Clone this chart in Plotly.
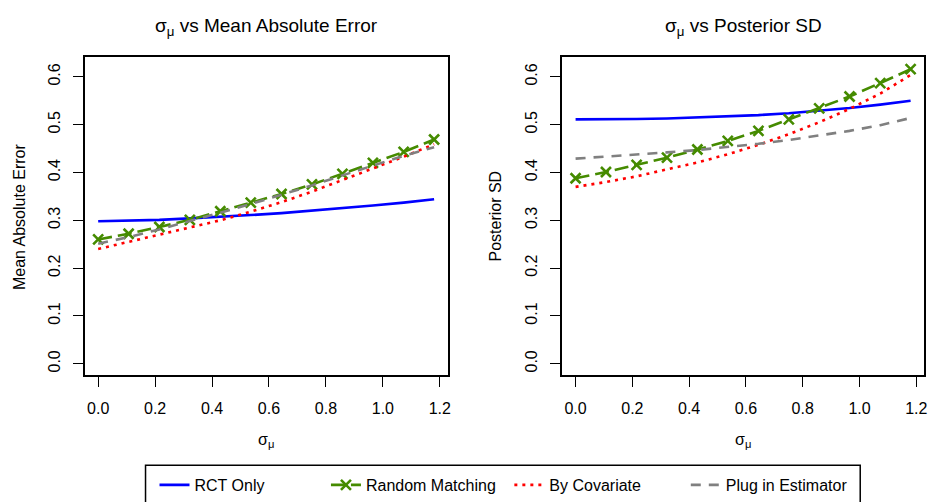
import plotly.graph_objects as go

W, H = 932, 502

# ---- data ----
sigma_mu = [0.0, 0.107, 0.215, 0.322, 0.429, 0.536, 0.644, 0.751, 0.858, 0.965, 1.073, 1.18]

mae_rct = [0.298, 0.299, 0.301, 0.304, 0.307, 0.311, 0.315, 0.320, 0.325, 0.331, 0.337, 0.344]
mae_random = [0.260, 0.272, 0.286, 0.301, 0.319, 0.337, 0.355, 0.375, 0.397, 0.420, 0.443, 0.469]
mae_cov = [0.240, 0.255, 0.270, 0.285, 0.300, 0.318, 0.338, 0.360, 0.384, 0.408, 0.433, 0.459]
mae_plug = [0.251, 0.265, 0.281, 0.298, 0.316, 0.334, 0.353, 0.373, 0.394, 0.415, 0.435, 0.453]

sd_rct = [0.511, 0.511, 0.512, 0.513, 0.515, 0.517, 0.520, 0.524, 0.529, 0.535, 0.542, 0.550]
sd_random = [0.388, 0.401, 0.416, 0.431, 0.448, 0.466, 0.487, 0.511, 0.534, 0.559, 0.587, 0.616]
sd_cov = [0.370, 0.380, 0.392, 0.406, 0.421, 0.438, 0.458, 0.480, 0.505, 0.533, 0.565, 0.604]
sd_plug = [0.429, 0.433, 0.437, 0.442, 0.447, 0.453, 0.460, 0.468, 0.477, 0.487, 0.499, 0.514]

series_names = ["RCT Only", "Random Matching", "By Covariate", "Plug in Estimator"]
x_ticks = [0.0, 0.2, 0.4, 0.6, 0.8, 1.0, 1.2]
y_ticks = [0.0, 0.1, 0.2, 0.3, 0.4, 0.5, 0.6]

panel_titles = ["σ<sub>μ</sub> vs Mean Absolute Error", "σ<sub>μ</sub> vs Posterior SD"]
y_titles = ["Mean Absolute Error", "Posterior SD"]
x_title = "σ<sub>μ</sub>"

# ---- styles ----
FONT = "Liberation Sans, Arial, Helvetica, sans-serif"
BLUE, GREEN, RED, GRAY = "#0000FF", "#458B00", "#FF0000", "#808080"
styles = [
    dict(mode="lines", line=dict(color=BLUE, width=2.6)),
    dict(mode="lines+markers", line=dict(color=GREEN, width=2.6, dash="14px,6px"),
         marker=dict(symbol="x-thin", size=10, color=GREEN, line=dict(color=GREEN, width=2.6))),
    dict(mode="lines", line=dict(color=RED, width=2.6, dash="3px,5px")),
    dict(mode="lines", line=dict(color=GRAY, width=2.6, dash="10px,8px")),
]

fig = go.Figure()

panels = [
    (dict(xa="x", ya="y"), [mae_rct, mae_random, mae_cov, mae_plug]),
    (dict(xa="x2", ya="y2"), [sd_rct, sd_random, sd_cov, sd_plug]),
]
legend_ids = ["legend", "legend2", "legend3", "legend4"]

for pi, (geo, ys) in enumerate(panels):
    for si, y in enumerate(ys):
        fig.add_trace(go.Scatter(
            x=sigma_mu, y=y, name=series_names[si], xaxis=geo["xa"], yaxis=geo["ya"],
            showlegend=(pi == 0), legend=legend_ids[si], **styles[si]))

ytop, ybot = 57, 377
ydom = [(H - ybot) / H, (H - ytop) / H]

axis_common = dict(showline=True, linecolor="black", linewidth=1.5, mirror=True,
                   ticks="outside", ticklen=10, tickwidth=1.2, tickcolor="black",
                   showgrid=False, zeroline=False,
                   tickfont=dict(family=FONT, size=16, color="black"))

layout = dict(
    width=W, height=H, margin=dict(l=0, r=0, t=0, b=0, pad=0),
    paper_bgcolor="white", plot_bgcolor="white",
    font=dict(family=FONT, size=16, color="black"),
    xaxis=dict(domain=[85 / W, 449 / W], range=[-0.0472, 1.2272], anchor="y",
               tickvals=x_ticks, tickformat=".1f", ticklabelstandoff=8, **axis_common),
    yaxis=dict(domain=ydom, range=[-0.0245, 0.642], anchor="x",
               tickvals=y_ticks, tickformat=".1f", tickangle=-90, ticklabelstandoff=7,
               **axis_common),
    xaxis2=dict(domain=[564 / W, 927 / W], range=[-0.0472, 1.2272], anchor="y2",
                tickvals=x_ticks, tickformat=".1f", ticklabelstandoff=8, **axis_common),
    yaxis2=dict(domain=ydom, range=[-0.0245, 0.642], anchor="x2",
                tickvals=y_ticks, tickformat=".1f", tickangle=-90, ticklabelstandoff=7,
                **axis_common),
)

# legends: one per entry, placed along a single row
text_starts = [197, 369, 553, 730]
for lid, ts in zip(legend_ids, text_starts):
    layout[lid] = dict(x=(ts - 42) / W, xanchor="left", y=(H - 487) / H, yanchor="middle",
                       orientation="h", bgcolor="rgba(0,0,0,0)", borderwidth=0,
                       font=dict(family=FONT, size=16, color="black"),
                       itemwidth=30)

fig.update_layout(**layout)

# legend frame
fig.add_shape(type="rect", xref="paper", yref="paper",
              x0=146 / W, x1=863 / W, y0=-0.06, y1=(H - 467) / H,
              line=dict(color="black", width=1.5), fillcolor="rgba(0,0,0,0)")

# titles and axis titles
centers = [(85 + 449) / 2, (564 + 927) / 2]
ylab_x = [19, 497]
for i in range(2):
    fig.add_annotation(text=panel_titles[i], x=centers[i] / W, y=(H - 27) / H,
                       xref="paper", yref="paper", showarrow=False,
                       xanchor="center", yanchor="middle",
                       font=dict(family=FONT, size=19, color="black"))
    fig.add_annotation(text=x_title, x=centers[i] / W, y=(H - 442) / H,
                       xref="paper", yref="paper", showarrow=False,
                       xanchor="center", yanchor="middle",
                       font=dict(family=FONT, size=16, color="black"))
    fig.add_annotation(text=y_titles[i], x=ylab_x[i] / W, y=(H - 217) / H,
                       xref="paper", yref="paper", showarrow=False, textangle=-90,
                       xanchor="center", yanchor="middle",
                       font=dict(family=FONT, size=16, color="black"))

fig.write_html("out.html")
